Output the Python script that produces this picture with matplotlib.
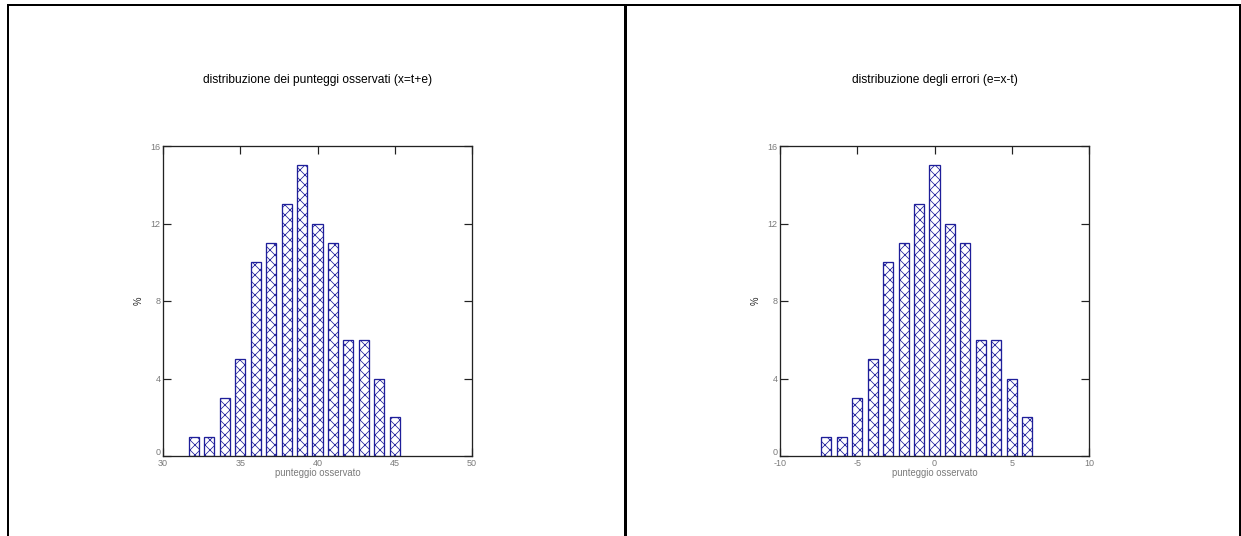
import matplotlib
matplotlib.use("Agg")
import matplotlib.pyplot as plt
from matplotlib.lines import Line2D
from matplotlib.transforms import ScaledTranslation

# ---- data ----
counts = [1, 1, 3, 5, 10, 11, 13, 15, 12, 11, 6, 6, 4, 2]
x_obs = [32, 33, 34, 35, 36, 37, 38, 39, 40, 41, 42, 43, 44, 45]
x_err = [-7, -6, -5, -4, -3, -2, -1, 0, 1, 2, 3, 4, 5, 6]
title_left = "distribuzione dei punteggi osservati (x=t+e)"
title_right = "distribuzione degli errori (e=x-t)"
xlabel_txt = "punteggio osservato"
ylabel_txt = "%"
xticks_left = [30, 35, 40, 45, 50]
xticks_right = [-10, -5, 0, 5, 10]
yticks = [0, 4, 8, 12, 16]

DPI = 60
W, H = 1241, 536
plt.rcParams['font.family'] = ['Liberation Sans', 'DejaVu Sans']
plt.rcParams['axes.unicode_minus'] = False
plt.rcParams['hatch.linewidth'] = 0.9
plt.rcParams['hatch.color'] = '#1a1a8c'

fig = plt.figure(figsize=(W / DPI, H / DPI), dpi=DPI, facecolor='white')

def px2pt(p):
    return p * 72.0 / DPI

def make_axes(left_px, xs, xticks, title):
    ax = fig.add_axes([left_px / W, 1 - 456 / H, 309 / W, 310 / H])
    ax.bar(xs, counts, width=0.66, facecolor='white', edgecolor='#1f1f9a',
           linewidth=px2pt(1.3), hatch='xx', zorder=2)
    ax.set_xlim(xticks[0], xticks[-1])
    ax.set_ylim(0, 16)
    ax.set_xticks(xticks)
    ax.set_yticks(yticks)
    ax.tick_params(direction='in', length=px2pt(8), width=px2pt(1.2),
                   top=True, right=True, colors='#222222',
                   labelcolor='#7a7a7a', labelsize=px2pt(9))
    ax.tick_params(axis='x', pad=px2pt(2.5))
    ax.tick_params(axis='y', pad=px2pt(2.5))
    for s in ax.spines.values():
        s.set_linewidth(px2pt(1.3))
        s.set_color('#222222')
        s.set_zorder(3)
    ax.set_xlabel(xlabel_txt, color='#7a7a7a', fontsize=px2pt(9.5), labelpad=px2pt(0.5))
    ax.set_ylabel(ylabel_txt, color='#222222', fontsize=px2pt(9.5), labelpad=px2pt(7))
    cx = (left_px + 309 / 2) / W
    fig.text(cx, 1 - 80 / H, title, ha='center', va='center',
             fontsize=px2pt(12), color='black')
    # keep the "0" y label just above the x tick labels (as in the reference)
    lbl0 = ax.get_yticklabels()[0]
    lbl0.set_verticalalignment('bottom')
    lbl0.set_transform(lbl0.get_transform() +
                       ScaledTranslation(0, -1.0 / DPI, fig.dpi_scale_trans))
    return ax

make_axes(163, x_obs, xticks_left, title_left)
make_axes(780, x_err, xticks_right, title_right)

# outer frame lines
top_y = 1 - 5 / H
fig.add_artist(Line2D([7.5 / W, 1240.5 / W], [top_y, top_y], transform=fig.transFigure,
                      color='black', linewidth=px2pt(2)))
fig.add_artist(Line2D([7.5 / W, 7.5 / W], [0, top_y], transform=fig.transFigure,
                      color='black', linewidth=px2pt(2)))
fig.add_artist(Line2D([1240 / W, 1240 / W], [0, top_y], transform=fig.transFigure,
                      color='black', linewidth=px2pt(2)))
fig.add_artist(Line2D([624.7 / W, 624.7 / W], [0, top_y], transform=fig.transFigure,
                      color='black', linewidth=px2pt(3)))

fig.savefig("out.png", dpi=DPI, facecolor='white')
